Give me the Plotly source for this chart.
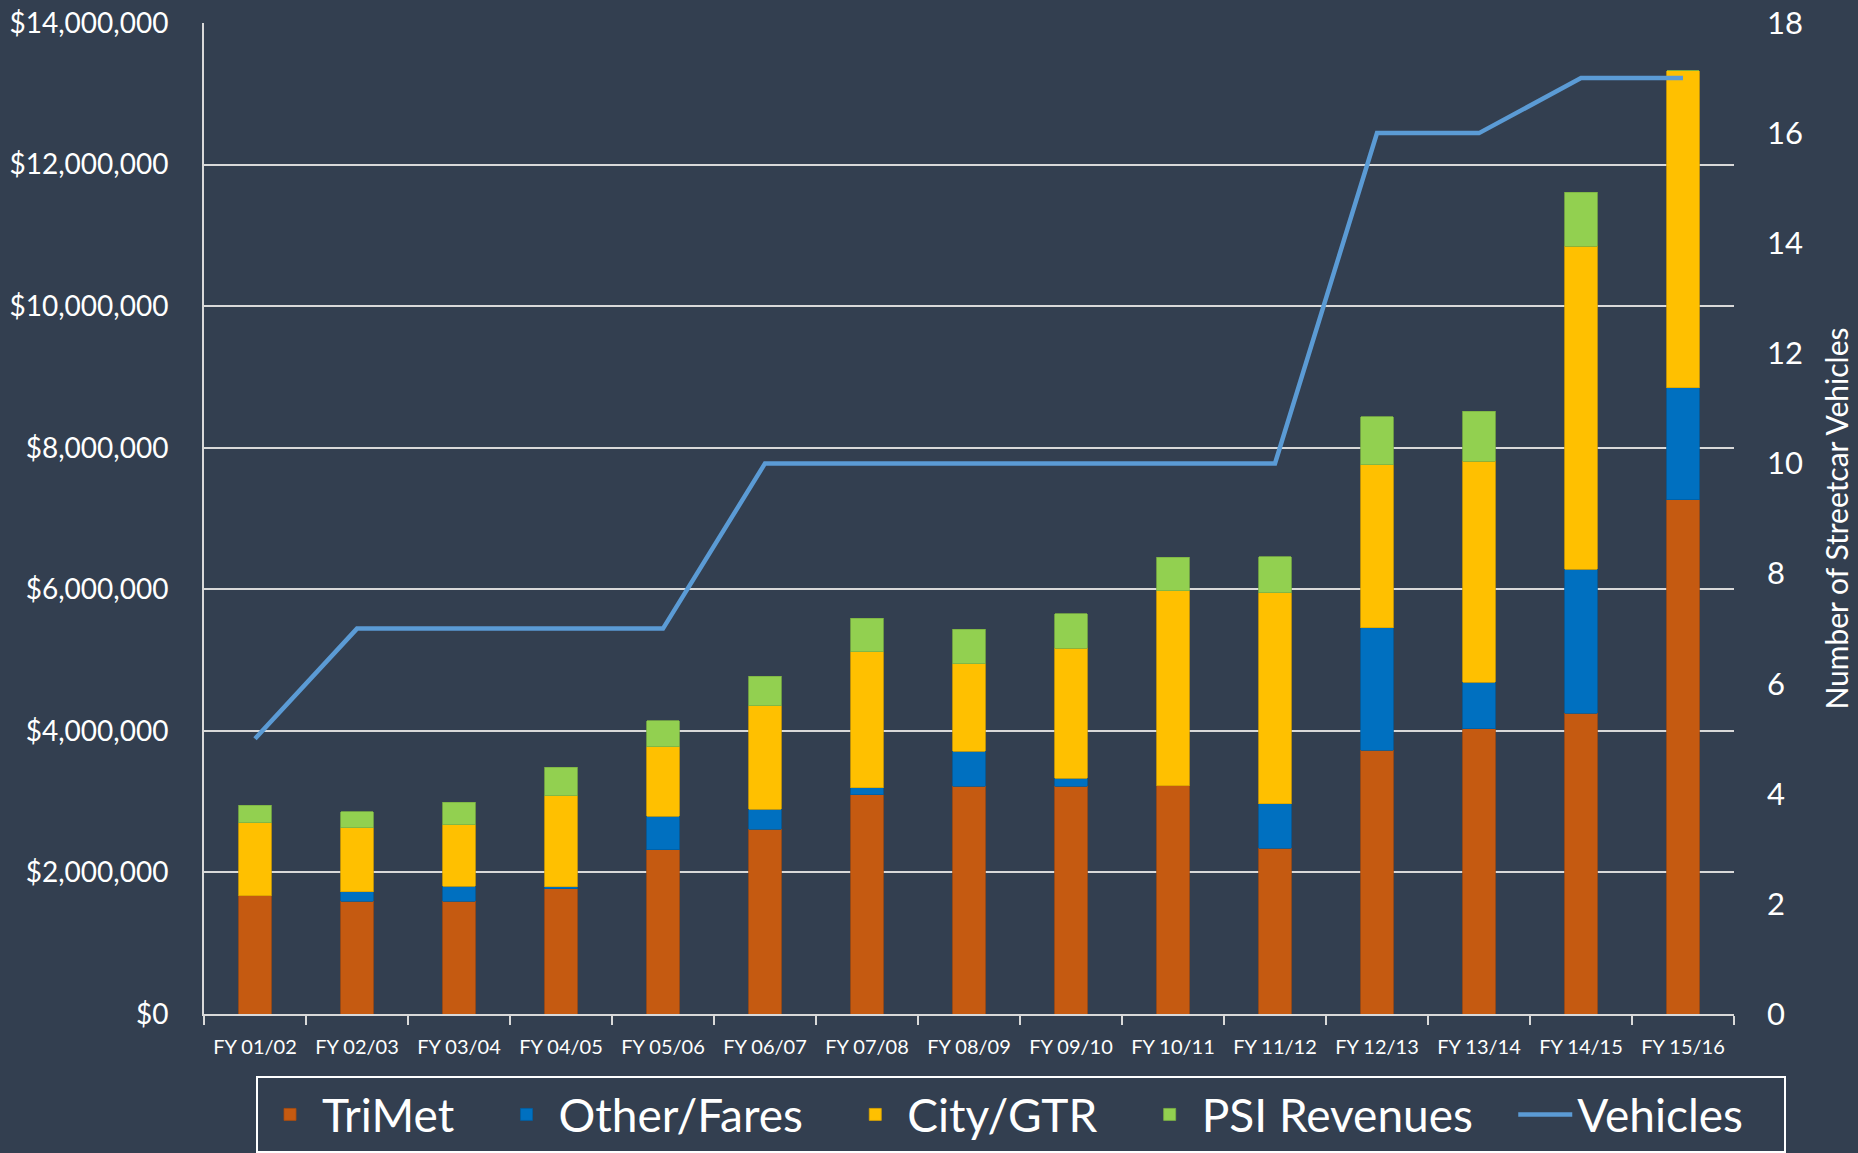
import plotly.graph_objects as go

categories = ["FY 01/02", "FY 02/03", "FY 03/04", "FY 04/05", "FY 05/06", "FY 06/07",
              "FY 07/08", "FY 08/09", "FY 09/10", "FY 10/11", "FY 11/12", "FY 12/13",
              "FY 13/14", "FY 14/15", "FY 15/16"]

trimet = [1672000, 1593000, 1593000, 1771000, 2321000, 2609000, 3094000, 3215000,
          3215000, 3227000, 2339000, 3726000, 4030000, 4250000, 7263000]
other_fares = [0, 131000, 212000, 28000, 470000, 283000, 104000, 496000,
               115000, 0, 631000, 1732000, 660000, 2033000, 1585000]
city_gtr = [1032000, 909000, 871000, 1287000, 985000, 1466000, 1922000, 1236000,
            1836000, 2753000, 2982000, 2298000, 3120000, 4560000, 4475000]
psi_revenues = [246000, 222000, 316000, 401000, 368000, 410000, 473000, 490000,
                485000, 473000, 506000, 684000, 708000, 763000, 0]
vehicles = [5, 7, 7, 7, 7, 10, 10, 10, 10, 10, 10, 16, 16, 17, 17]

left_ticks = [0, 2000000, 4000000, 6000000, 8000000, 10000000, 12000000, 14000000]
left_labels = ["$" + format(v, ",d") for v in left_ticks]
right_ticks = [0, 2, 4, 6, 8, 10, 12, 14, 16, 18]

BG = "#333F50"
FONT = "Lato, Carlito, 'Open Sans', sans-serif"
PAD = "\u00a0" * 3  # legend spacing after each entry label

fig = go.Figure()
series = [
    ("TriMet", trimet, "#C55A11", "#A94C0E"),
    ("Other/Fares", other_fares, "#0070C0", "#005FA3"),
    ("City/GTR", city_gtr, "#FFC000", "#D9A300"),
    ("PSI Revenues", psi_revenues, "#92D050", "#7CB144"),
]
for name, vals, col, edge in series:
    fig.add_trace(go.Bar(
        x=categories, y=vals, name=name + PAD,
        marker=dict(color=col, line=dict(color=edge, width=0.8)),
        yaxis="y",
    ))

fig.add_trace(go.Scatter(
    x=categories, y=vehicles, name="Vehicles" + PAD, mode="lines",
    line=dict(color="#5B9BD5", width=4.5),
    yaxis="y2",
))

fig.update_layout(
    width=1858, height=1153,
    paper_bgcolor=BG, plot_bgcolor=BG,
    font=dict(family=FONT, color="white"),
    barmode="stack", bargap=0.686,
    margin=dict(l=204, r=124, t=23, b=139, autoexpand=False),
    showlegend=True,
    legend=dict(
        orientation="h", x=1.034, xanchor="right",
        y=-0.0626, yanchor="top",
        font=dict(size=46, color="white"),
        bordercolor="white", borderwidth=2, bgcolor="rgba(0,0,0,0)",
        traceorder="normal", itemwidth=54,
    ),
    xaxis=dict(
        type="category", showgrid=False, automargin=False,
        showline=True, linecolor="#D9D9D9", linewidth=2,
        ticks="outside", tickson="boundaries", ticklen=9, tickwidth=2, tickcolor="#D9D9D9",
        tickfont=dict(size=20, color="white"), ticklabelstandoff=14,
        range=[-0.5, 14.5],
    ),
    yaxis=dict(
        range=[0, 14000000], tickvals=left_ticks, ticktext=left_labels, automargin=False,
        showgrid=True, gridcolor="#D9D9D9", gridwidth=2,
        showline=True, linecolor="#D9D9D9", linewidth=2,
        zeroline=False, ticks="", tickfont=dict(size=28, color="white"),
        ticklabelstandoff=28,
    ),
    yaxis2=dict(
        range=[0, 18], tickvals=right_ticks, overlaying="y", side="right", automargin=False,
        showgrid=False, zeroline=False, showline=False, ticks="",
        tickfont=dict(size=31, color="white"),
        title=dict(text="Number of Streetcar Vehicles", font=dict(size=30, color="white"), standoff=25),
        ticklabelstandoff=32,
    ),
)

fig.write_html(
    "out.html",
    config={"displayModeBar": False},
    post_script="document.body.style.margin='0';document.body.style.background='#333F50';document.body.style.overflow='hidden';",
)
